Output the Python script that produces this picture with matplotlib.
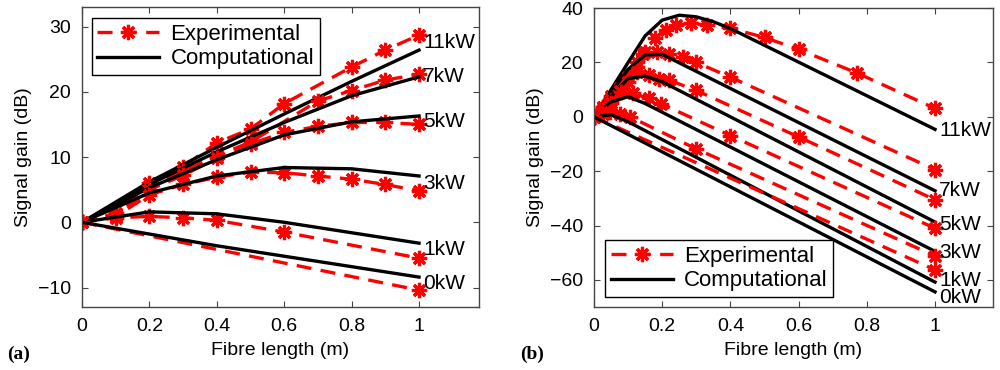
import numpy as np
import matplotlib.pyplot as plt

plt.rcParams['font.family'] = ['Liberation Sans', 'DejaVu Sans']
plt.rcParams['font.size'] = 14

# ---- panel (a) ----
powers = ['11kW', '7kW', '5kW', '3kW', '1kW', '0kW']

a_exp_x = {
    '11kW': [0, 0.1, 0.2, 0.3, 0.4, 0.5, 0.6, 0.8, 0.9, 1.0],
    '7kW': [0, 0.1, 0.2, 0.3, 0.4, 0.5, 0.7, 0.8, 0.9, 1.0],
    '5kW': [0, 0.1, 0.2, 0.3, 0.4, 0.5, 0.6, 0.7, 0.8, 0.9, 1.0],
    '3kW': [0, 0.1, 0.2, 0.3, 0.4, 0.5, 0.6, 0.7, 0.8, 0.9, 1.0],
    '1kW': [0, 0.1, 0.2, 0.3, 0.4, 0.6, 1.0],
    '0kW': [0, 1.0],
}
a_exp_y = {
    '11kW': [0, 1.4, 6.1, 8.5, 12.2, 14.3, 18.2, 23.8, 26.4, 28.7],
    '7kW': [0, 1.2, 5.5, 7.8, 10.2, 12.3, 18.6, 20.2, 21.8, 22.7],
    '5kW': [0, 1.0, 5.0, 7.2, 9.8, 12.0, 13.8, 14.7, 15.3, 15.3, 15.0],
    '3kW': [0, 0.9, 4.2, 5.8, 6.9, 7.7, 7.6, 7.1, 6.6, 5.8, 4.8],
    '1kW': [0, 0.7, 0.9, 0.7, 0.3, -1.5, -5.5],
    '0kW': [0, -10.4],
}
a_sim_x = [0, 0.2, 0.4, 0.6, 0.8, 1.0]
a_sim_y = {
    '11kW': [0, 6.2, 11.5, 16.6, 21.6, 26.4],
    '7kW': [0, 5.8, 10.8, 15.3, 19.4, 22.3],
    '5kW': [0, 5.3, 9.6, 13.4, 15.4, 16.3],
    '3kW': [0, 4.5, 7.1, 8.4, 8.2, 7.1],
    '1kW': [0, 1.6, 1.3, 0.0, -1.6, -3.2],
    '0kW': [0, -1.8, -3.6, -5.2, -6.8, -8.4],
}
a_label_y = {'11kW': 27.6, '7kW': 22.4, '5kW': 15.5, '3kW': 6.0, '1kW': -4.2, '0kW': -9.4}

# ---- panel (b) ----
b_exp_x = {
    '11kW': [0, 0.025, 0.05, 0.075, 0.1, 0.125, 0.15, 0.18, 0.21, 0.24, 0.285, 0.33, 0.4, 0.5, 0.6, 0.77, 1.0],
    '7kW': [0, 0.025, 0.05, 0.075, 0.1, 0.125, 0.145, 0.185, 0.22, 0.26, 0.3, 0.4, 1.0],
    '5kW': [0, 0.025, 0.05, 0.075, 0.1, 0.125, 0.16, 0.19, 0.22, 0.3, 0.6, 1.0],
    '3kW': [0, 0.025, 0.05, 0.08, 0.115, 0.16, 0.195, 0.4, 1.0],
    '1kW': [0, 0.025, 0.047, 0.076, 0.106, 0.3, 1.0],
    '0kW': [0, 1.0],
}
b_exp_y = {
    '11kW': [0, 3.8, 7.8, 11.5, 15.5, 20.0, 24.0, 28.9, 31.9, 33.8, 34.4, 33.8, 32.6, 29.2, 24.8, 16.2, 3.1],
    '7kW': [0, 3.5, 7.0, 10.5, 14.5, 18.5, 23.3, 23.9, 23.3, 22.1, 20.0, 14.6, -19.4],
    '5kW': [0, 3.0, 6.2, 9.5, 12.8, 16.6, 15.4, 14.1, 13.5, 9.7, -7.4, -30.5],
    '3kW': [0, 2.6, 5.2, 9.0, 8.6, 6.8, 4.9, -6.9, -41.0],
    '1kW': [0, 1.0, 1.8, 1.2, 0.0, -11.8, -51.2],
    '0kW': [0, -56.3],
}
b_sim_x = {
    '11kW': [0, 0.05, 0.1, 0.15, 0.2, 0.25, 0.3, 0.35, 0.4, 1.0],
    '7kW': [0, 0.05, 0.1, 0.15, 0.2, 1.0],
    '5kW': [0, 0.05, 0.1, 0.15, 0.2, 1.0],
    '3kW': [0, 0.05, 0.1, 0.15, 1.0],
    '1kW': [0, 0.05, 0.1, 1.0],
    '0kW': [0, 1.0],
}
b_sim_y = {
    '11kW': [0, 10.0, 20.0, 29.8, 35.6, 37.4, 36.8, 35.0, 32.5, -4.6],
    '7kW': [0, 9.0, 17.5, 22.8, 23.0, -27.2],
    '5kW': [0, 7.5, 14.1, 15.0, 12.9, -38.7],
    '3kW': [0, 5.5, 7.4, 4.9, -49.5],
    '1kW': [0, 0.8, -1.8, -60.8],
    '0kW': [0, -64.4],
}
b_label_y = {'11kW': -4.9, '7kW': -27.0, '5kW': -39.5, '3kW': -50.0, '1kW': -60.1, '0kW': -66.5}

exp_style = dict(color='red', linestyle=(0, (4.5, 2.8)), linewidth=2.4,
                 marker=(8, 2, 0), markersize=11, markeredgewidth=2.3,
                 markeredgecolor='red', markerfacecolor='red')
sim_style = dict(color='black', linestyle='-', linewidth=2.4)

fig = plt.figure(figsize=(10, 3.7), dpi=100)
axA = fig.add_axes([0.082, 0.170, 0.397, 0.811])
axB = fig.add_axes([0.594, 0.170, 0.399, 0.808])


def style_axes(ax):
    ax.tick_params(direction='in', length=4, top=True, right=True, width=0.8,
                   color='#444444', labelsize=14, pad=8)
    for s in ax.spines.values():
        s.set_color('#444444')
        s.set_linewidth(1.0)
    ax.set_xlabel('Fibre length (m)', fontsize=14, labelpad=5)
    ax.set_ylabel('Signal gain (dB)', fontsize=14)


def add_legend(ax, loc, anchor):
    leg = ax.legend(loc=loc, bbox_to_anchor=anchor, fontsize=16,
                    fancybox=False, edgecolor='black', framealpha=1, handlelength=2.8,
                    handletextpad=0.5, borderaxespad=0, borderpad=0.25, labelspacing=0.15)
    leg.get_frame().set_linewidth(1.0)


# panel (a)
for i, p in enumerate(powers):
    axA.plot(a_exp_x[p], a_exp_y[p], label='Experimental' if i == 0 else None, **exp_style)
    axA.plot(a_sim_x, a_sim_y[p], label='Computational' if i == 0 else None, **sim_style)
    axA.text(1.012, a_label_y[p], p, fontsize=15, va='center', ha='left')
axA.set_xlim(0, 1.178)
axA.set_ylim(-13, 33)
axA.set_xticks([0, 0.2, 0.4, 0.6, 0.8, 1])
axA.set_xticklabels(['0', '0.2', '0.4', '0.6', '0.8', '1'])
axA.set_yticks([-10, 0, 10, 20, 30])
axA.set_yticklabels(['\u221210', '0', '10', '20', '30'])
style_axes(axA)
add_legend(axA, 'upper left', (0.024, 0.962))

# panel (b)
for i, p in enumerate(powers):
    axB.plot(b_exp_x[p], b_exp_y[p], label='Experimental' if i == 0 else None, **exp_style)
    axB.plot(b_sim_x[p], b_sim_y[p], label='Computational' if i == 0 else None, **sim_style)
    axB.text(1.012, b_label_y[p], p, fontsize=15, va='center', ha='left')
axB.set_xlim(0, 1.17)
axB.set_ylim(-70, 40)
axB.set_xticks([0, 0.2, 0.4, 0.6, 0.8, 1])
axB.set_xticklabels(['0', '0.2', '0.4', '0.6', '0.8', '1'])
axB.set_yticks([-60, -40, -20, 0, 20, 40])
axB.set_yticklabels(['\u221260', '\u221240', '\u221220', '0', '20', '40'])
style_axes(axB)
add_legend(axB, 'lower left', (0.028, 0.034))

fig.text(0.007, 0.03, '(a)', fontsize=14, fontweight='bold', family=['Liberation Serif', 'DejaVu Serif'])
fig.text(0.52, 0.03, '(b)', fontsize=14, fontweight='bold', family=['Liberation Serif', 'DejaVu Serif'])

fig.savefig('out.png', dpi=100)
